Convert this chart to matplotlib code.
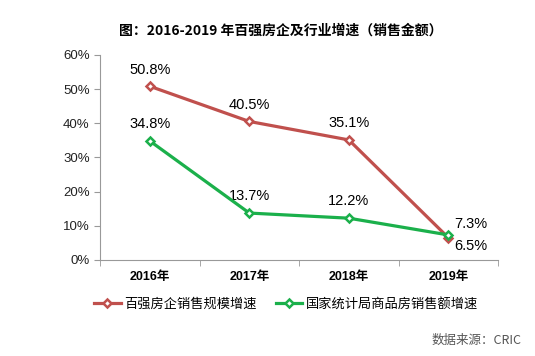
import matplotlib.pyplot as plt
from matplotlib.ticker import PercentFormatter

plt.rcParams['font.family'] = ['Liberation Sans', 'Noto Sans CJK SC', 'DejaVu Sans']

# 数据
years = ['2016年', '2017年', '2018年', '2019年']
top100 = [50.8, 40.5, 35.1, 6.5]
national = [34.8, 13.7, 12.2, 7.3]
top100_labels = ['50.8%', '40.5%', '35.1%', '6.5%']
national_labels = ['34.8%', '13.7%', '12.2%', '7.3%']

red = '#C0504D'
green = '#1BB04B'

fig = plt.figure(figsize=(5.35, 3.56), dpi=100)
ax = fig.add_axes([0.187, 0.270, 0.744, 0.576])

x = range(len(years))
ax.plot(x, top100, color=red, lw=2.3, marker='D', ms=4.5, mfc='white', mec=red, mew=1.8,
        label='百强房企销售规模增速', zorder=3)
ax.plot(x, national, color=green, lw=2.3, marker='D', ms=4.5, mfc='white', mec=green, mew=1.8,
        label='国家统计局商品房销售额增速', zorder=4)

# 数据标签
for i, t in enumerate(top100_labels):
    if i == 3:
        ax.annotate(t, (i, top100[i]), xytext=(4, -6), textcoords='offset points',
                    ha='left', va='center', fontsize=10.5)
    else:
        ax.annotate(t, (i, top100[i]), xytext=(0, 7), textcoords='offset points',
                    ha='center', va='bottom', fontsize=10.5)
for i, t in enumerate(national_labels):
    if i == 3:
        ax.annotate(t, (i, national[i]), xytext=(4, 8), textcoords='offset points',
                    ha='left', va='center', fontsize=10.5)
    else:
        ax.annotate(t, (i, national[i]), xytext=(0, 7), textcoords='offset points',
                    ha='center', va='bottom', fontsize=10.5)

ax.set_xlim(-0.5, 3.5)
ax.set_ylim(0, 60)
ax.set_yticks(range(0, 61, 10))
ax.yaxis.set_major_formatter(PercentFormatter(decimals=0))
ax.set_xticks(x)
ax.set_xticklabels(years, fontweight='bold', fontsize=9)
ax.set_xticks([-0.5, 0.5, 1.5, 2.5, 3.5], minor=True)
ax.tick_params(axis='x', which='major', length=0, pad=8)
ax.tick_params(axis='x', which='minor', length=4, color='#999999')
ax.tick_params(axis='y', length=4, color='#999999', labelsize=9.5)
for lab in ax.get_yticklabels():
    lab.set_color('#222222')

for s in ['top', 'right']:
    ax.spines[s].set_visible(False)
ax.spines['left'].set_color('#999999')
ax.spines['bottom'].set_color('#999999')

fig.text(0.525, 0.915, '图：2016-2019 年百强房企及行业增速（销售金额）', ha='center', va='center',
         fontsize=10, fontweight='bold', family=['Noto Sans CJK SC', 'DejaVu Sans'])

fig.legend(loc='center', bbox_to_anchor=(0.535, 0.145), ncol=2, frameon=False,
           handlelength=2.0, columnspacing=1.4, handletextpad=0.3,
           prop={'family': ['Noto Sans CJK SC', 'DejaVu Sans'], 'size': 9.5})

fig.text(0.975, 0.045, '数据来源：CRIC', ha='right', va='center', fontsize=9,
         color='#555555', family=['Noto Sans CJK SC', 'DejaVu Sans'])

fig.savefig('out.png', dpi=100)
